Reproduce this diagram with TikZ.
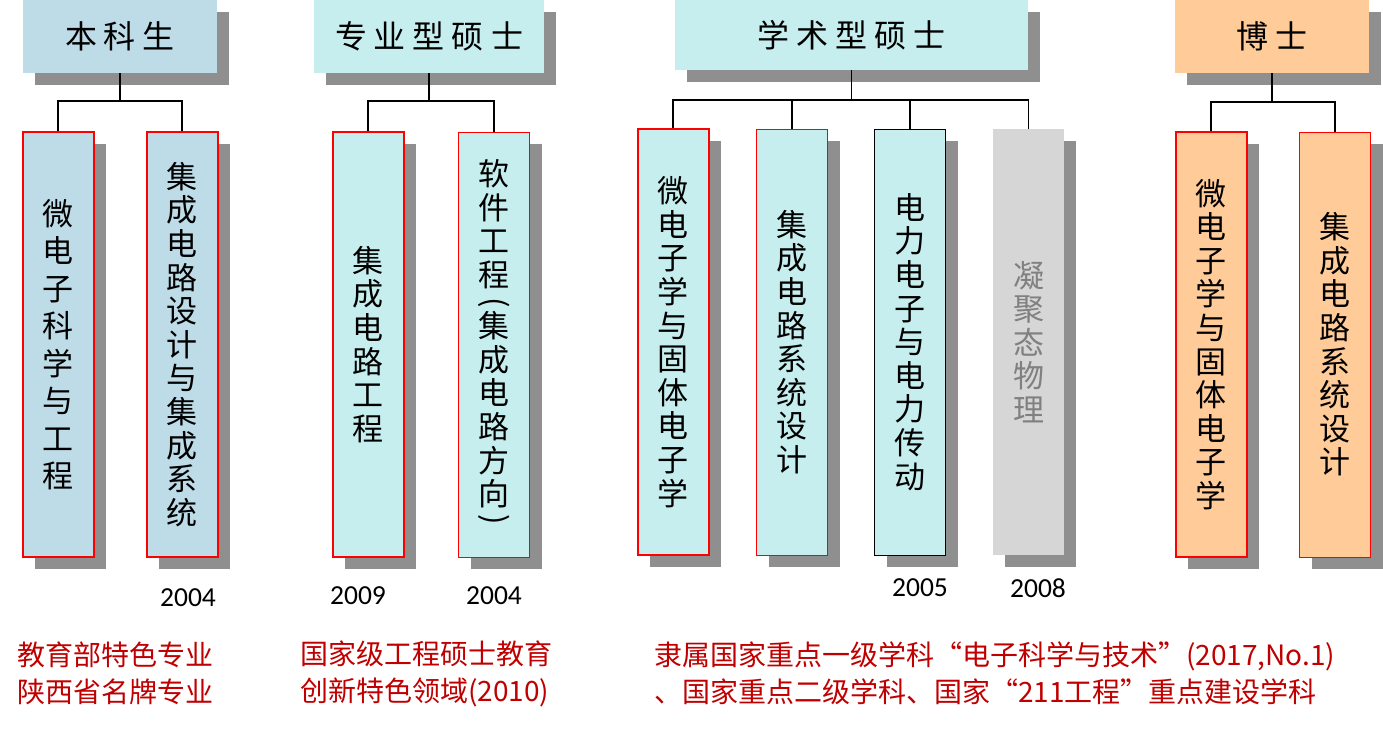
\documentclass[tikz,border=0pt]{standalone}
\usepackage{fontspec}
\setmainfont{Carlito}
\newfontfamily\cjk{Noto Sans CJK SC}
\usepackage{tikz}
\usetikzlibrary{shadows}

\definecolor{ugblue}{HTML}{BEDCE8}
\definecolor{mscyan}{HTML}{C6EEEE}
\definecolor{phdorange}{HTML}{FFCC99}
\definecolor{shadowgray}{HTML}{8F8F8F}
\definecolor{condgray}{HTML}{D6D6D6}
\definecolor{notered}{HTML}{C00000}
\newcommand{\tgap}{\hspace{7pt}}
\newcommand{\vparen}[1]{\rotatebox[origin=c]{-90}{#1}}

\begin{document}
\begin{tikzpicture}[x=1pt, y=-1pt,
    % Styles
    boxshadow/.style={drop shadow={shadow xshift=12pt, shadow yshift=-12pt, fill=shadowgray, opacity=1}},
    level/.style={boxshadow, rectangle, inner sep=0pt, minimum width=194pt, minimum height=73pt,
                  font=\cjk\fontsize{32}{36}\selectfont},
    major/.style={boxshadow, rectangle, inner sep=0pt, minimum width=71pt, minimum height=425pt,
                  align=center, font=\cjk\fontsize{31}{33.6}\selectfont},
    redthick/.style={draw=red, line width=2pt},
    redthin/.style={draw=red, line width=0.9pt},
    link/.style={line width=1.6pt},
    year/.style={font=\fontsize{27.5}{30}\selectfont},
    note/.style={anchor=west, inner sep=0pt, align=left, text=notered, font=\cjk\fontsize{28}{37}\selectfont}
  ]
    \useasboundingbox (0,0) rectangle (1383,734);

    % === Degree levels (top) ===
    \node[level, fill=ugblue] (ug) at (120,36.5) {本\tgap 科\tgap 生};
    \node[level, fill=mscyan, minimum width=230pt] (pm) at (429,36.5) {专\tgap 业\tgap 型\tgap 硕\tgap 士};
    \node[level, fill=mscyan, minimum width=353pt, minimum height=70pt] (am) at (851.5,35) {学\tgap 术\tgap 型\tgap 硕\tgap 士};
    \node[level, fill=phdorange] (phd) at (1272,36.5) {博\tgap 士};

    % === Majors ===
    \node[major, fill=ugblue, redthick, font=\cjk\fontsize{31}{37.5}\selectfont] (c1) at (58,344.5)
      {微\\电\\子\\科\\学\\与\\工\\程};
    \node[major, fill=ugblue, redthick] (c2) at (182,344.5)
      {集\\成\\电\\路\\设\\计\\与\\集\\成\\系\\统};
    \node[major, fill=mscyan, redthick] (c3) at (368,344.5)
      {集\\成\\电\\路\\工\\程};
    \node[major, fill=mscyan, redthin] (c4) at (494,344.5)
      {软\\件\\工\\程\\[-8pt]\vparen{(}\\[-8pt]集\\成\\电\\路\\方\\向\\[-10pt]\vparen{)}};
    \node[major, fill=mscyan, redthick, minimum height=426pt] (c5) at (673,342)
      {微\\电\\子\\学\\与\\固\\体\\电\\子\\学};
    \node[major, fill=mscyan, redthin, minimum height=426pt] (c6) at (792,342)
      {集\\成\\电\\路\\系\\统\\设\\计};
    \node[major, fill=mscyan, draw=black, line width=0.9pt, minimum height=426pt] (c7) at (910,342)
      {电\\力\\电\\子\\与\\电\\力\\传\\动};
    \node[major, fill=condgray, text=black!50, minimum height=426pt] (c8) at (1028.5,342)
      {凝\\聚\\态\\物\\理};
    \node[major, fill=phdorange, redthick] (c9) at (1211,344.5)
      {微\\电\\子\\学\\与\\固\\体\\电\\子\\学};
    \node[major, fill=phdorange, redthin] (c10) at (1335,344.5)
      {集\\成\\电\\路\\系\\统\\设\\计};

    % === Tree links ===
    \foreach \c in {c1,c2}
      \draw[link] (ug.south) |- (\c.north |- 0,101) -- (\c.north);
    \foreach \c in {c3,c4}
      \draw[link] (pm.south) |- (\c.north |- 0,101) -- (\c.north);
    \foreach \c in {c5,c6,c7,c8}
      \draw[link] (am.south) |- (\c.north |- 0,100) -- (\c.north);
    \foreach \c in {c9,c10}
      \draw[link] (phd.south) |- (\c.north |- 0,102) -- (\c.north);

    % === Years ===
    \node[year] (y2) at (188,598) {2004};
    \node[year] (y3) at (358,596) {2009};
    \node[year] (y4) at (494,596) {2004};
    \node[year] (y7) at (920,588) {2005};
    \node[year] (y8) at (1038,588) {2008};

    % === Notes (bottom) ===
    \node[note] (ugnote) at (17,673.5) {教育部特色专业\\陕西省名牌专业};
    \node[note] (pmnote) at (300,673.5) {国家级工程硕士教育\\创新特色领域(2010)};
    \node[note] (amnote) at (654,673.5) {隶属国家重点一级学科“电子科学与技术”(2017,No.1)\\、国家重点二级学科、国家“211工程”重点建设学科};

  \end{tikzpicture}
\end{document}
